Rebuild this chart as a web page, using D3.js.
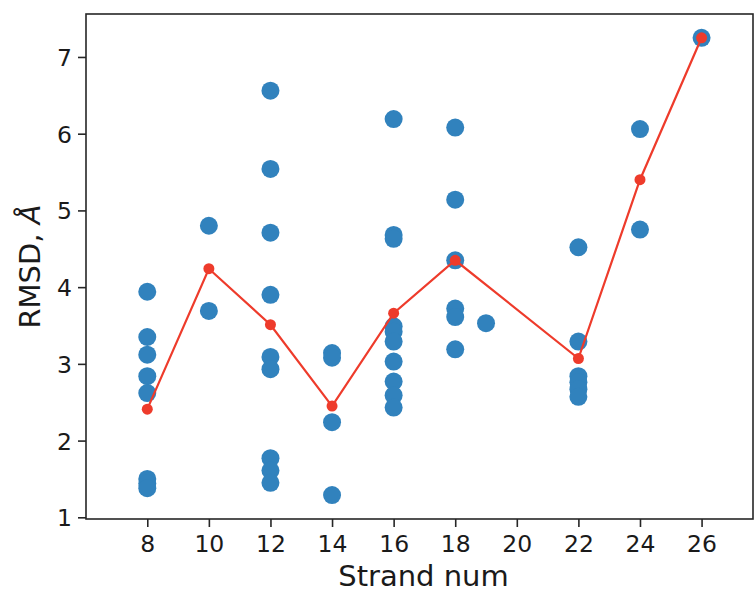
<!DOCTYPE html>
<html>
<head>
<meta charset="utf-8">
<script src="https://cdn.jsdelivr.net/npm/d3@7"></script>
<style>
  body { margin: 0; background: #fff; }
  text { font-family: "DejaVu Sans", sans-serif; fill: #1a1a1a; }
</style>
</head>
<body>
<div id="chart"></div>
<script>
// scatter points (strand number, RMSD)
var pointStrand = [8,8,8,8,8,8,8,8,
    10,10,
    12,12,12,12,12,12,12,12,12,
    14,14,14,14,
    16,16,16,16,16,16,16,16,16,16,
    18,18,18,18,18,18,
    19,
    22,22,22,22,22,22,
    24,24,
    26];
var pointRmsd = [3.94,3.35,3.12,2.84,2.62,1.50,1.44,1.38,
    4.80,3.69,
    6.56,5.54,4.71,3.90,3.09,2.93,1.77,1.61,1.45,
    3.14,3.08,2.24,1.29,
    6.19,4.68,4.63,3.49,3.42,3.29,3.03,2.77,2.59,2.43,
    6.08,5.14,4.35,3.72,3.61,3.19,
    3.53,
    4.52,3.29,2.84,2.76,2.67,2.57,
    6.06,4.75,
    7.25];

// mean line
var meanStrand = [8,10,12,14,16,18,22,24,26];
var meanRmsd = [2.41,4.24,3.51,2.45,3.66,4.35,3.07,5.40,7.25];

var xTicks = [8,10,12,14,16,18,20,22,24,26];
var yTicks = [1,2,3,4,5,6,7];

var margin = {top: 14, right: 1, bottom: 71, left: 86};
var W = 754, H = 590;
var width = W - margin.left - margin.right;
var height = H - margin.top - margin.bottom;

var svg = d3.select("#chart").append("svg")
    .attr("width", W)
    .attr("height", H)
  .append("g")
    .attr("transform", "translate(" + margin.left + "," + margin.top + ")");

var x = d3.scaleLinear().domain([6.01, 27.67]).range([0, width]);
var y = d3.scaleLinear().domain([0.978, 7.56]).range([height, 0]);

// axes
var xAxis = svg.append("g")
    .attr("transform", "translate(0," + height + ")")
    .call(d3.axisBottom(x).tickValues(xTicks).tickSize(8).tickFormat(d3.format("d")));
xAxis.selectAll("text").attr("y", 33).attr("dy", null).style("font-size", "23.5px");

var yAxis = svg.append("g")
    .call(d3.axisLeft(y).tickValues(yTicks).tickSize(8).tickFormat(d3.format("d")));
yAxis.selectAll("text").attr("x", -14).attr("dy", "0.36em").style("font-size", "23.5px");

svg.selectAll(".domain").remove();
svg.selectAll(".tick line").attr("stroke", "#262626").attr("stroke-width", 1.6);

// frame
svg.append("rect")
    .attr("width", width).attr("height", height)
    .attr("fill", "none")
    .attr("stroke", "#262626")
    .attr("stroke-width", 1.6);

// scatter
svg.append("g").selectAll("circle")
    .data(pointRmsd)
    .join("circle")
    .attr("cx", function(d, i){ return x(pointStrand[i]); })
    .attr("cy", function(d){ return y(d); })
    .attr("r", 9)
    .attr("fill", "#3182bd");

// mean line + markers
var meanData = meanStrand.map(function(s, i){ return [s, meanRmsd[i]]; });
svg.append("path")
    .datum(meanData)
    .attr("fill", "none")
    .attr("stroke", "#ee3b2b")
    .attr("stroke-width", 2.2)
    .attr("d", d3.line().x(function(d){ return x(d[0]); }).y(function(d){ return y(d[1]); }));

svg.append("g").selectAll("circle")
    .data(meanData)
    .join("circle")
    .attr("cx", function(d){ return x(d[0]); })
    .attr("cy", function(d){ return y(d[1]); })
    .attr("r", 5.5)
    .attr("fill", "#ee3b2b");

// labels
svg.append("text")
    .attr("x", width / 2 + 4)
    .attr("y", height + 67)
    .attr("text-anchor", "middle")
    .style("font-size", "29px")
    .text("Strand num");

var yl = svg.append("text")
    .attr("transform", "translate(" + (-46) + "," + (height / 2) + ") rotate(-90)")
    .attr("text-anchor", "middle")
    .style("font-size", "29px");
yl.append("tspan").text("RMSD, ");
yl.append("tspan").style("font-style", "italic").text("Å");
</script>
</body>
</html>
